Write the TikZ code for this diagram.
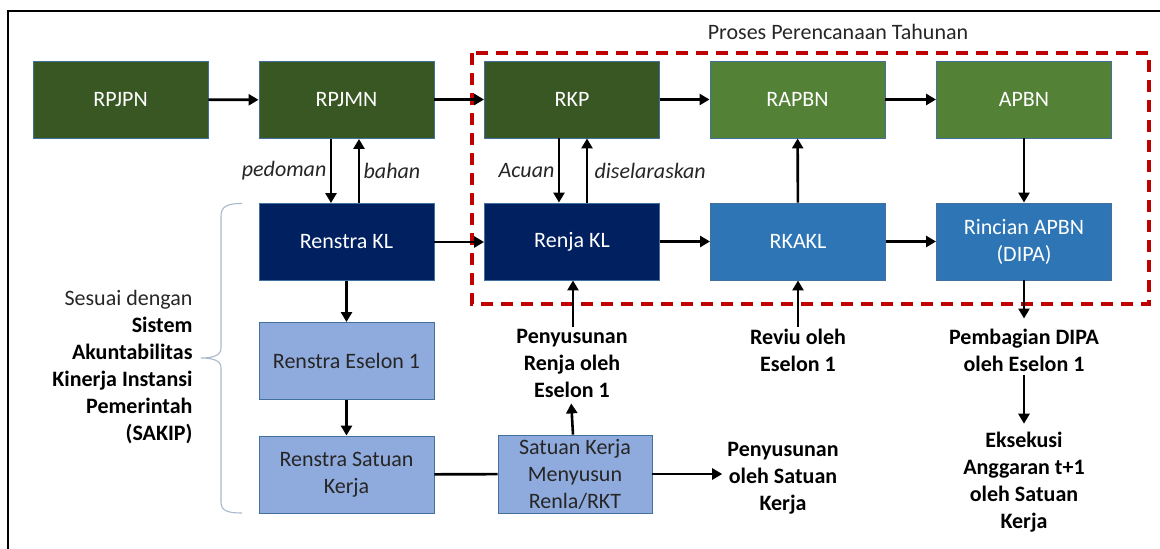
\documentclass[tikz,border=0pt]{standalone}
\usepackage{fontspec}
\setmainfont{Carlito}
\usetikzlibrary{arrows.meta}

\definecolor{dkgreen}{HTML}{385723}
\definecolor{ltgreen}{HTML}{538135}
\definecolor{navy}{HTML}{002060}
\definecolor{midblue}{HTML}{2E75B6}
\definecolor{paleblue}{HTML}{8FAADC}
\definecolor{boxedge}{HTML}{41719C}
\definecolor{dashred}{HTML}{C00000}
\definecolor{darktext}{HTML}{262626}
\definecolor{bracegrey}{HTML}{A9B8CC}

\begin{document}
\begin{tikzpicture}[x=1pt,y=-1pt,
  box/.style={draw=boxedge,line width=0.9pt,minimum width=175pt,minimum height=77pt,
    inner sep=0pt,align=center,font=\fontsize{22}{27}\selectfont},
  darkbox/.style={box,text=white},
  lightbox/.style={box,fill=paleblue,text=darktext},
  arr/.style={line width=2.6pt,-{Triangle[length=10pt,width=11pt]}},
  plainline/.style={line width=2.6pt},
  note/.style={align=center,inner sep=2pt,font=\fontsize{22}{27}\selectfont\bfseries,text=black},
  ital/.style={font=\fontsize{22}{27}\selectfont\itshape,text=darktext},
]
\useasboundingbox (0,0) rectangle (1160,549);

% outer frame
\draw[line width=2.4pt] (1160,11) -- (8,11) -- (8,549);

% annual planning frame and its title
\draw[dashred,line width=3.6pt,dash pattern=on 12pt off 8pt] (472,53) rectangle (1149,304);
\node[font=\fontsize{22}{27}\selectfont,text=darktext] (title) at (838,32) {Proses Perencanaan Tahunan};

% top row
\node[darkbox,fill=dkgreen] (rpjpn) at (120.5,99.5) {RPJPN};
\node[darkbox,fill=dkgreen] (rpjmn) at (346.5,100) {RPJMN};
\node[darkbox,fill=dkgreen] (rkp)   at (572,99.5) {RKP};
\node[darkbox,fill=ltgreen] (rapbn) at (797.5,99.5) {RAPBN};
\node[darkbox,fill=ltgreen] (apbn)  at (1024,99.5) {APBN};

% second row
\node[darkbox,fill=navy]    (renstrakl) at (346.5,242) {Renstra KL};
\node[darkbox,fill=navy]    (renjakl)   at (572,241.5) {Renja KL};
\node[darkbox,fill=midblue] (rkakl)     at (798,241.5) {RKAKL};
\node[darkbox,fill=midblue] (rincian)   at (1024,241.5) {Rincian APBN\\(DIPA)};

% lower boxes
\node[lightbox] (eselon) at (346.5,361) {Renstra Eselon 1};
\node[lightbox] (satker) at (346.5,474.5) {Renstra Satuan\\Kerja};
\node[lightbox,minimum width=154pt,minimum height=78pt] (renla) at (575,474) {Satuan Kerja\\Menyusun\\Renla/RKT};

% process notes
\node[note] (penyrenja) at (572,363) {Penyusunan\\Renja oleh\\Eselon 1};
\node[note] (reviu)     at (798,350) {Reviu oleh\\Eselon 1};
\node[note] (pembagian) at (1024,350) {Pembagian DIPA\\oleh Eselon 1};
\node[note] (eksekusi)  at (1024,482) {Eksekusi\\Anggaran t+1\\oleh Satuan\\Kerja};
\node[note] (penysat)   at (783,478) {Penyusunan\\oleh Satuan\\Kerja};

% SAKIP note with brace
\node[align=right,anchor=east,font=\fontsize{22}{27}\selectfont,text=darktext] (sakip) at (196,367)
  {Sesuai dengan\\\textbf{\textcolor{black}{Sistem}}\\\textbf{\textcolor{black}{Akuntabilitas}}\\\textbf{\textcolor{black}{Kinerja Instansi}}\\\textbf{\textcolor{black}{Pemerintah}}\\\textbf{\textcolor{black}{(SAKIP)}}};
\draw[bracegrey,line width=1.1pt]
  (242,203.5) .. controls (228,203.5) and (221,206) .. (221,216)
  -- (221,348) .. controls (221,355) and (214,358) .. (201,358)
  .. controls (214,358) and (221,361) .. (221,368)
  -- (221,502) .. controls (221,511) and (228,513) .. (242,513);

% horizontal flow, top row
\draw[arr] (rpjpn) -- (rpjmn);
\draw[arr] (rpjmn.east |- rkp) -- (rkp);
\draw[arr] (rkp) -- (rapbn);
\draw[arr] (rapbn) -- (apbn);

% horizontal flow, second row
\draw[arr] (renstrakl) -- (renjakl.west |- renstrakl);
\draw[arr] (renjakl) -- (rkakl);
\draw[arr] (rkakl) -- (rincian);

% vertical links between rows
\draw[arr] ([xshift=-15.5pt]rpjmn.south) -- node[ital,left] {pedoman} ([xshift=-15.5pt]renstrakl.north);
\draw[arr] ([xshift=12.5pt]renstrakl.north) -- node[ital,right] {bahan} ([xshift=12.5pt]rpjmn.south);
\draw[arr] ([xshift=-13pt]rkp.south) -- node[ital,left] {Acuan} ([xshift=-13pt]renjakl.north);
\draw[arr] ([xshift=15pt]renjakl.north) -- node[ital,right,xshift=3pt] {diselaraskan} ([xshift=15pt]rkp.south);
\draw[arr] (rkakl) -- (rapbn);
\draw[arr] (apbn) -- (rincian);

% strategic plan cascade
\draw[arr] (renstrakl) -- (eselon);
\draw[arr] (eselon) -- (satker);
\draw[plainline] (satker) -- (renla);

% notes feeding the boxes
\draw[arr] ([xshift=1pt]penyrenja.north) -- ([xshift=1pt]renjakl.south);
\draw[arr] (reviu.north) -- (rkakl.south);
\draw[arr,shorten >=8pt] (rincian) -- (pembagian);
\draw[arr,shorten <=1pt,shorten >=6pt] (pembagian) -- (eksekusi);
\draw[arr,shorten >=4pt] ([xshift=-2pt]renla.north) -- ([xshift=-1pt]penyrenja.south);
\draw[arr,shorten >=3pt] (renla.east) -- (renla.east -| penysat.west);
\end{tikzpicture}
\end{document}
